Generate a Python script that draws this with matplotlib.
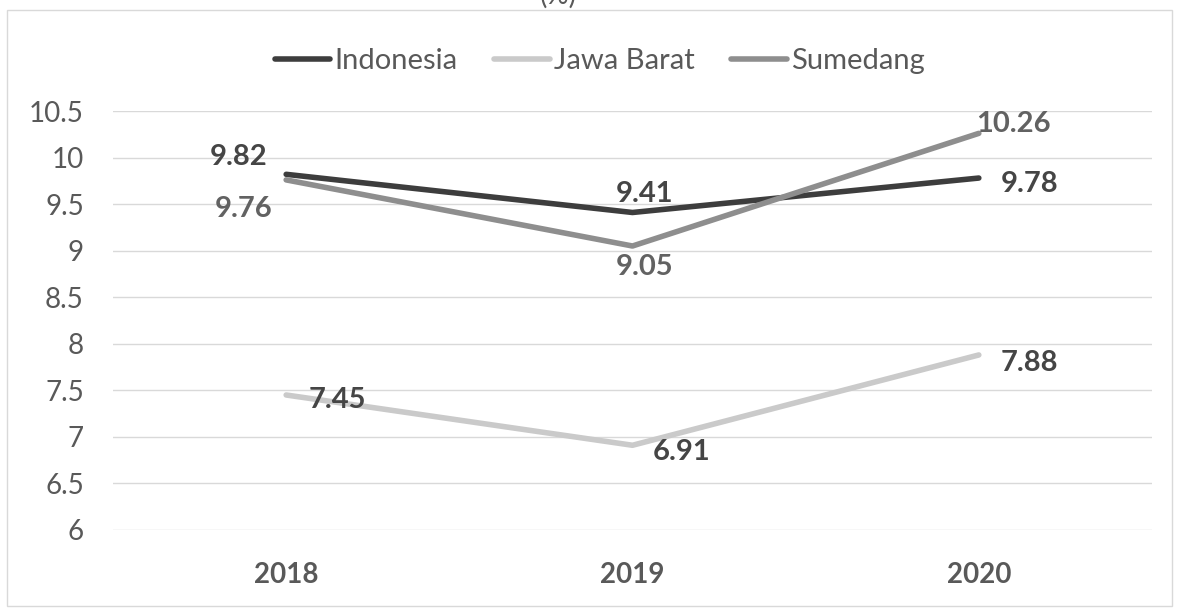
import matplotlib
matplotlib.use("Agg")
import matplotlib.pyplot as plt
from matplotlib.patches import Rectangle

plt.rcParams['font.family'] = ['Lato', 'DejaVu Sans']

years = ['2018', '2019', '2020']
indonesia = [9.82, 9.41, 9.78]
jawa_barat = [7.45, 6.91, 7.88]
sumedang = [9.76, 9.05, 10.26]
y_ticks = [6, 6.5, 7, 7.5, 8, 8.5, 9, 9.5, 10, 10.5]
y_tick_labels = ['6', '6.5', '7', '7.5', '8', '8.5', '9', '9.5', '10', '10.5']

# label offsets in pixels (dx, dy) for each point
ind_offsets = [(-48, 17), (12, 18), (51, -6)]
jawa_offsets = [(51, -5), (49, -7), (51, -8)]
sum_offsets = [(-43, -29), (12, -21), (35, 9)]


def main():
    fig = plt.figure(figsize=(11.78, 6.09), dpi=100)
    ax = fig.add_axes([113 / 1178, 1 - 530 / 609, 1039 / 1178, 419 / 609])

    x = list(range(len(years)))
    # name, values, line colour, label offsets, label colour
    series = [
        ('Indonesia', indonesia, '#3d3d3d', ind_offsets, '#454545'),
        ('Jawa Barat', jawa_barat, '#cacaca', jawa_offsets, '#454545'),
        ('Sumedang', sumedang, '#8e8e8e', sum_offsets, '#626262'),
    ]
    for name, vals, col, offs, tc in series:
        ax.plot(x, vals, color=col, lw=4, solid_capstyle='round', label=name, zorder=3)
        for xi, v, (dx, dy) in zip(x, vals, offs):
            ax.annotate(f'{v:.2f}', (xi, v), xytext=(dx, dy), textcoords='offset pixels',
                        ha='center', va='center', fontsize=21, fontweight='bold',
                        color=tc, zorder=4)

    ax.set_xlim(-0.5, 2.5)
    ax.set_ylim(6, 10.5)
    ax.set_yticks(y_ticks)
    ax.set_yticklabels(y_tick_labels)
    ax.set_xticks(x)
    ax.set_xticklabels(years, fontweight='bold')
    ax.tick_params(axis='y', length=0, pad=21, labelsize=20, labelcolor='#595959')
    ax.tick_params(axis='x', length=0, pad=23, labelsize=20, labelcolor='#595959')
    ax.grid(axis='y', color='#d9d9d9', lw=1)
    ax.set_axisbelow(True)
    for s in ax.spines.values():
        s.set_visible(False)

    fig.legend(loc='center', bbox_to_anchor=(600 / 1178, 1 - 61 / 609), ncol=3, frameon=False,
               fontsize=21, handlelength=1.9, handletextpad=0.15, columnspacing=1.25,
               labelcolor='#595959')

    # title cut off at the very top of the scan
    fig.text(558 / 1178, 0.994, '(%)', ha='center', va='baseline', fontsize=20, color='#595959')

    fig.add_artist(Rectangle((7 / 1178, 1 - 606 / 609), 1165 / 1178, 596 / 609,
                             transform=fig.transFigure, fill=False, ec='#d9d9d9', lw=1))

    fig.savefig('out.png', dpi=100)


if __name__ == "__main__":
    main()
